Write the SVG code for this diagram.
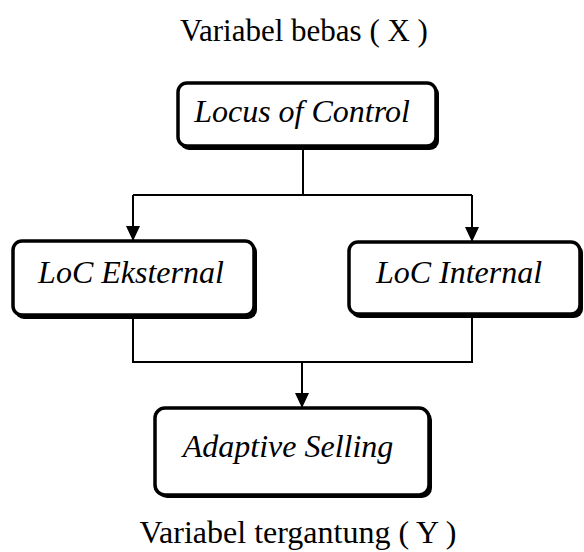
<svg xmlns="http://www.w3.org/2000/svg" width="584" height="552" viewBox="0 0 584 552">
  <defs>
    <style>
      .lbl { font-family: "Liberation Serif", "DejaVu Serif", "Times New Roman", serif; font-size: 31px; fill: #000; text-anchor: middle; }
      .nt { font-family: "Liberation Serif", "DejaVu Serif", "Times New Roman", serif; font-size: 32px; font-style: italic; fill: #000; text-anchor: middle; }
      .box { fill: #fff; stroke: #000; stroke-width: 3.5; }
      .shadow { fill: #000; }
      .conn { fill: none; stroke: #000; stroke-width: 2; }
    </style>
    <marker id="arr" viewBox="0 0 15 14" refX="15" refY="7" markerWidth="15" markerHeight="14" markerUnits="userSpaceOnUse" orient="auto">
      <path d="M0,0 L15,7 L0,14 Z" fill="#000"/>
    </marker>
  </defs>
  <rect width="584" height="552" fill="#fff"/>

  <text class="lbl" x="304" y="41">Variabel bebas ( X )</text>
  <text class="lbl" x="298" y="543" style="font-size:32px">Variabel tergantung ( Y )</text>

  <g id="connectors">
    <path class="conn" d="M303,148 V195"/>
    <path class="conn" d="M133,195 H472"/>
    <line class="conn" x1="133" y1="195" x2="133" y2="241" marker-end="url(#arr)"/>
    <line class="conn" x1="472" y1="195" x2="472" y2="242" marker-end="url(#arr)"/>
    <path class="conn" d="M133,317 V362 H472 V316"/>
    <line class="conn" x1="302" y1="362" x2="302" y2="408" marker-end="url(#arr)"/>
  </g>

  <g id="locus">
    <rect class="shadow" x="180" y="85" width="259" height="65" rx="9"/>
    <rect class="box" x="178" y="83" width="258" height="63" rx="9"/>
    <text class="nt" x="302" y="122">Locus of Control</text>
  </g>

  <g id="eksternal">
    <rect class="shadow" x="15" y="243" width="242" height="76" rx="9"/>
    <rect class="box" x="13" y="241" width="241" height="74" rx="9"/>
    <text class="nt" x="131" y="283">LoC Eksternal</text>
  </g>

  <g id="internal">
    <rect class="shadow" x="351" y="244" width="232" height="74" rx="9"/>
    <rect class="box" x="349" y="242" width="231" height="72" rx="9"/>
    <text class="nt" x="459" y="283">LoC Internal</text>
  </g>

  <g id="adaptive">
    <rect class="shadow" x="157" y="410" width="275" height="88" rx="10"/>
    <rect class="box" x="155" y="408" width="274" height="87" rx="10"/>
    <text class="nt" x="288" y="457">Adaptive Selling</text>
  </g>
</svg>
